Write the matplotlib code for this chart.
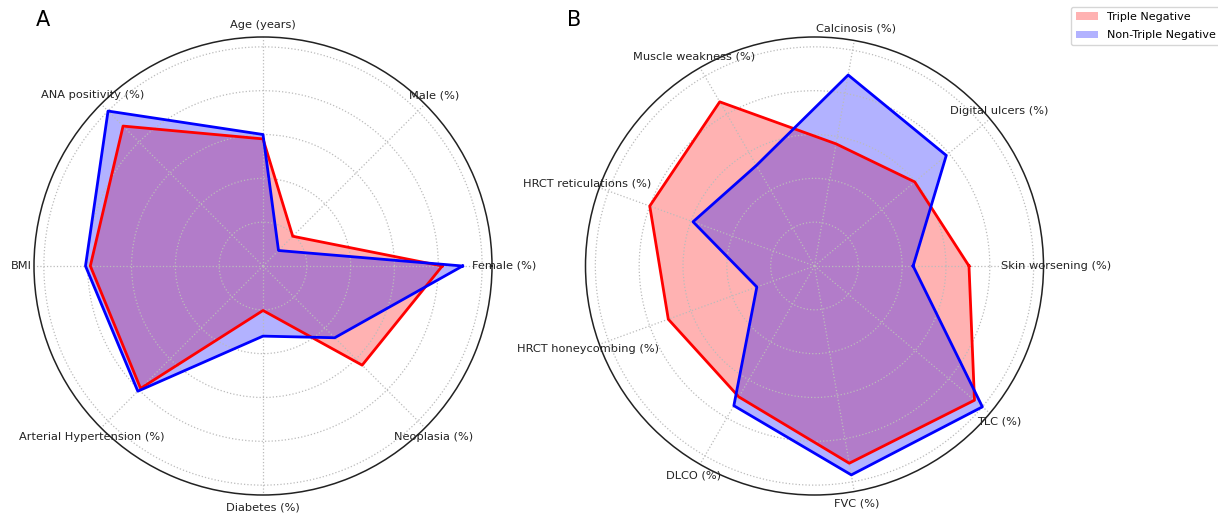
import numpy as np
import matplotlib
matplotlib.use("Agg")
import matplotlib.pyplot as plt
from matplotlib.patches import Patch

# Panel A
labels_a = ["Female (%)", "Male (%)", "Age (years)", "ANA positivity (%)", "BMI",
            "Arterial Hypertension (%)", "Diabetes (%)", "Neoplasia (%)"]
tn_a = [0.818, 0.192, 0.58, 0.903, 0.788, 0.79, 0.203, 0.64]
ntn_a = [0.911, 0.10, 0.60, 1.0, 0.81, 0.808, 0.32, 0.463]

# Panel B
labels_b = ["Skin worsening (%)", "Digital ulcers (%)", "Calcinosis (%)", "Muscle weakness (%)",
            "HRCT reticulations (%)", "HRCT honeycombing (%)", "DLCO (%)", "FVC (%)", "TLC (%)"]
tn_b = [0.705, 0.597, 0.566, 0.865, 0.80, 0.71, 0.69, 0.914, 0.953]
ntn_b = [0.45, 0.785, 0.885, 0.53, 0.59, 0.28, 0.736, 0.968, 1.0]

series_names = ["Triple Negative", "Non-Triple Negative"]
colors = ["red", "blue"]

W, H = 1218, 513
fig = plt.figure(figsize=(W / 100, H / 100), dpi=100)

R = 229
def add_radar(cx, cy, labels, s1, s2):
    ax = fig.add_axes([(cx - R) / W, (H - cy - R) / H, 2 * R / W, 2 * R / H], projection="polar")
    n = len(labels)
    ang = np.linspace(0, 2 * np.pi, n, endpoint=False)
    angc = np.concatenate([ang, ang[:1]])
    for vals, c, name in zip([s1, s2], colors, series_names):
        v = np.concatenate([vals, vals[:1]])
        ax.fill(angc, v, color=c, alpha=0.3, label=name, linewidth=0)
        ax.plot(angc, v, color=c, linewidth=2)
    ax.set_ylim(0, 1.045)
    ax.set_yticks([0.2, 0.4, 0.6, 0.8, 1.0])
    ax.set_yticklabels([])
    ax.set_xticks(ang)
    ax.set_xticklabels(labels, fontsize=8.2, color="#222222")
    ax.tick_params(axis="x", pad=-1.5)
    ax.grid(True, linestyle=":", color="#bbbbbb", linewidth=0.9)
    ax.spines["polar"].set_color("#222222")
    ax.spines["polar"].set_linewidth(1.1)
    return ax

ax1 = add_radar(263, 266, labels_a, tn_a, ntn_a)
ax2 = add_radar(814.5, 266, labels_b, tn_b, ntn_b)

fig.text(43 / W, 1 - 19.5 / H, "A", fontsize=15, ha="center", va="center")
fig.text(574 / W, 1 - 19.5 / H, "B", fontsize=15, ha="center", va="center")

handles = [Patch(facecolor=c, alpha=0.3, label=n) for c, n in zip(colors, series_names)]
fig.legend(handles=handles, loc="upper left", bbox_to_anchor=(1071 / W, 1 - 7 / H),
           borderaxespad=0, fontsize=8, frameon=True, handlelength=2.0,
           handletextpad=0.8, borderpad=0.45, labelspacing=0.75)

fig.savefig("out.png", dpi=100)
